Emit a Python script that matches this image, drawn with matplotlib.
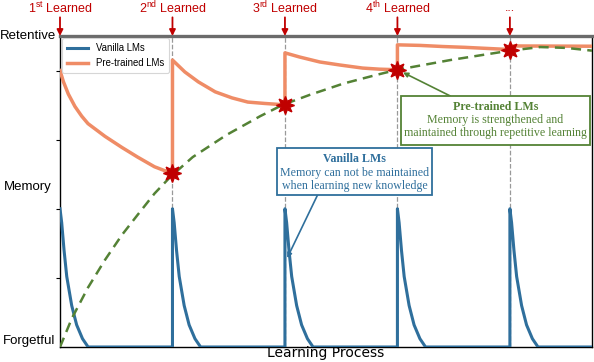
import matplotlib
matplotlib.use("Agg")
import matplotlib.pyplot as plt
from matplotlib.patches import Rectangle

plt.rcParams["mathtext.fontset"] = "custom"
plt.rcParams["mathtext.rm"] = "Liberation Sans"

# ---------------- data ----------------
events = [0, 10, 20, 30, 40]
event_labels = ["1$^{\\mathrm{st}}$ Learned", "2$^{\\mathrm{nd}}$ Learned",
                "3$^{\\mathrm{rd}}$ Learned", "4$^{\\mathrm{th}}$ Learned", "..."]

# vanilla LM decay profile after each learning event (offset, value)
vanilla_dx = [0, 0.15, 0.36, 0.6, 1.04, 1.48, 2.0, 2.5]
vanilla_y = [0.5, 0.45, 0.35, 0.255, 0.15, 0.08, 0.03, 0.0]

# pre-trained LM curve (jumps at each learning event)
pre_x = [0, 0.3, 0.74, 1.33, 1.93, 2.49, 4.0, 5.5, 6.9, 8.4, 9.3, 10,
         10, 11.1, 12.3, 13.8, 15.3, 16.7, 18.2, 20,
         20, 21.3, 23.1, 24.9, 26.9, 28.4, 30,
         30, 32, 34, 36, 38, 40,
         40, 47.3]
pre_y = [1.0, 0.96, 0.915, 0.87, 0.835, 0.808, 0.762, 0.722, 0.687, 0.652, 0.638, 0.63,
         1.038, 0.995, 0.959, 0.923, 0.901, 0.886, 0.881, 0.876,
         1.064, 1.049, 1.031, 1.02, 1.009, 1.005, 1.003,
         1.093, 1.091, 1.087, 1.084, 1.08, 1.076,
         1.089, 1.088]

# memory trend (green dashed)
trend_x = [0, 1.07, 2.49, 4.0, 5.5, 6.9, 8.4, 9.8, 11.8, 14.8, 17.8, 19.8,
           22.2, 25.2, 28.2, 30, 34.7, 40, 42.7, 45, 47.3]
trend_y = [0, 0.105, 0.215, 0.315, 0.405, 0.478, 0.555, 0.615, 0.687, 0.767, 0.835, 0.876,
           0.912, 0.953, 0.985, 1.003, 1.038, 1.072, 1.085, 1.082, 1.072]

# star points (memory after each repeated learning)
star_x = [10, 20, 30, 40]
star_y = [0.63, 0.876, 1.003, 1.075]

# annotation texts
vanilla_title = "Vanilla LMs"
vanilla_lines = ["Memory can not be maintained", "when learning new knowledge"]
pre_title = "Pre-trained LMs"
pre_lines = ["Memory is strengthened and", "maintained through repetitive learning"]

# ---------------- colours ----------------
BLUE = "#2f6f9c"
ORANGE = "#ef8c66"
GREEN = "#548235"
RED = "#c00000"
SANS = ["Liberation Sans", "DejaVu Sans"]
SERIF = ["Liberation Serif", "DejaVu Serif"]

fig = plt.figure(figsize=(5.94, 3.62), dpi=100)
ax = fig.add_axes([60 / 594, 15 / 362, 532 / 594, 311 / 362])
XMAX = 47.3
ax.set_xlim(0, XMAX)
ax.set_ylim(0, 1.125)

# build vanilla curve
vx, vy = [], []
for i, e in enumerate(events):
    if i > 0:
        vx.append(e)
        vy.append(0.0)
    vx += [e + d for d in vanilla_dx]
    vy += vanilla_y
vx.append(XMAX)
vy.append(0.0)

# gray dashed event lines
for e in events[1:]:
    ax.axvline(e, color="#999999", ls="--", lw=0.9, zorder=1)

ax.plot(vx, vy, color=BLUE, lw=2.2, label="Vanilla LMs", zorder=3)
ax.plot(pre_x, pre_y, color=ORANGE, lw=2.5, label="Pre-trained LMs", zorder=3)
ax.plot(trend_x, trend_y, color=GREEN, lw=1.8, ls=(0, (4, 2.5)), zorder=4)
ax.plot(star_x, star_y, ls="none", marker=(8, 1, 0), color=RED, ms=13, zorder=6)

# spines / ticks
ax.spines["top"].set_color("#6b6b6b")
ax.spines["top"].set_linewidth(2.4)
for s in ("left", "right", "bottom"):
    ax.spines[s].set_color("black")
    ax.spines[s].set_linewidth(1.0)
ax.set_xticks([])
ax.set_yticks([0.25, 0.5, 0.75, 1.0])
ax.set_yticklabels([])
ax.tick_params(axis="y", length=3, width=0.8)

# y-axis word labels
ax.text(-0.008, 1.0, "Retentive", transform=ax.transAxes, ha="right", va="center",
        fontsize=9.5, family=SANS)
ax.text(-0.015, 0.515, "Memory", transform=ax.transAxes, ha="right", va="center",
        fontsize=9.5, family=SANS)
ax.text(-0.008, 0.02, "Forgetful", transform=ax.transAxes, ha="right", va="center",
        fontsize=9.5, family=SANS)
ax.set_xlabel("Learning Process", fontsize=10, labelpad=-1)

# top red arrows + labels
for e, lab in zip(events, event_labels):
    ax.annotate("", xy=(e, 1.0), xycoords=("data", "axes fraction"),
                xytext=(e, 1.06), textcoords=("data", "axes fraction"),
                arrowprops=dict(arrowstyle="-|>", color=RED, lw=1.3,
                                mutation_scale=9, shrinkA=0, shrinkB=0),
                annotation_clip=False)
    ax.text(e, 1.09, lab, transform=ax.get_xaxis_transform(), ha="center", va="center",
            color=RED, fontsize=9, family=SANS, clip_on=False)

# legend
leg = ax.legend(loc="upper left", prop={"family": SANS, "size": 6.9}, frameon=True,
                handlelength=2.2, borderaxespad=0.25, borderpad=0.5, labelspacing=0.5)
leg.get_frame().set_linewidth(0.8)


def note_box(x0, x1, y0, y1, color, title, lines, ty, ly):
    ax.add_patch(Rectangle((x0, y0), x1 - x0, y1 - y0, fc="white", ec=color, lw=1.3,
                           zorder=7))
    xc = (x0 + x1) / 2
    ax.text(xc, ty, title, ha="center", va="center", fontsize=8.6, family=SERIF,
            color=color, fontweight="bold", zorder=8)
    for t, yy in zip(lines, ly):
        ax.text(xc, yy, t, ha="center", va="center", fontsize=8.6, family=SERIF,
                color=color, zorder=8)


note_box(19.29, 33.07, 0.55, 0.72, BLUE, vanilla_title, vanilla_lines,
         0.679, [0.631, 0.582])
ax.annotate("", xy=(20.2, 0.322), xytext=(22.9, 0.55),
            arrowprops=dict(arrowstyle="-|>", color=BLUE, lw=1.2, mutation_scale=7,
                            shrinkA=0, shrinkB=0), zorder=6)

note_box(30.31, 47.11, 0.731, 0.908, GREEN, pre_title, pre_lines,
         0.868, [0.821, 0.773])
ax.annotate("", xy=(30.5, 0.993), xytext=(34.7, 0.908),
            arrowprops=dict(arrowstyle="-|>", color=GREEN, lw=1.2, mutation_scale=7,
                            shrinkA=0, shrinkB=0), zorder=6)

fig.savefig("out.png", dpi=100)
